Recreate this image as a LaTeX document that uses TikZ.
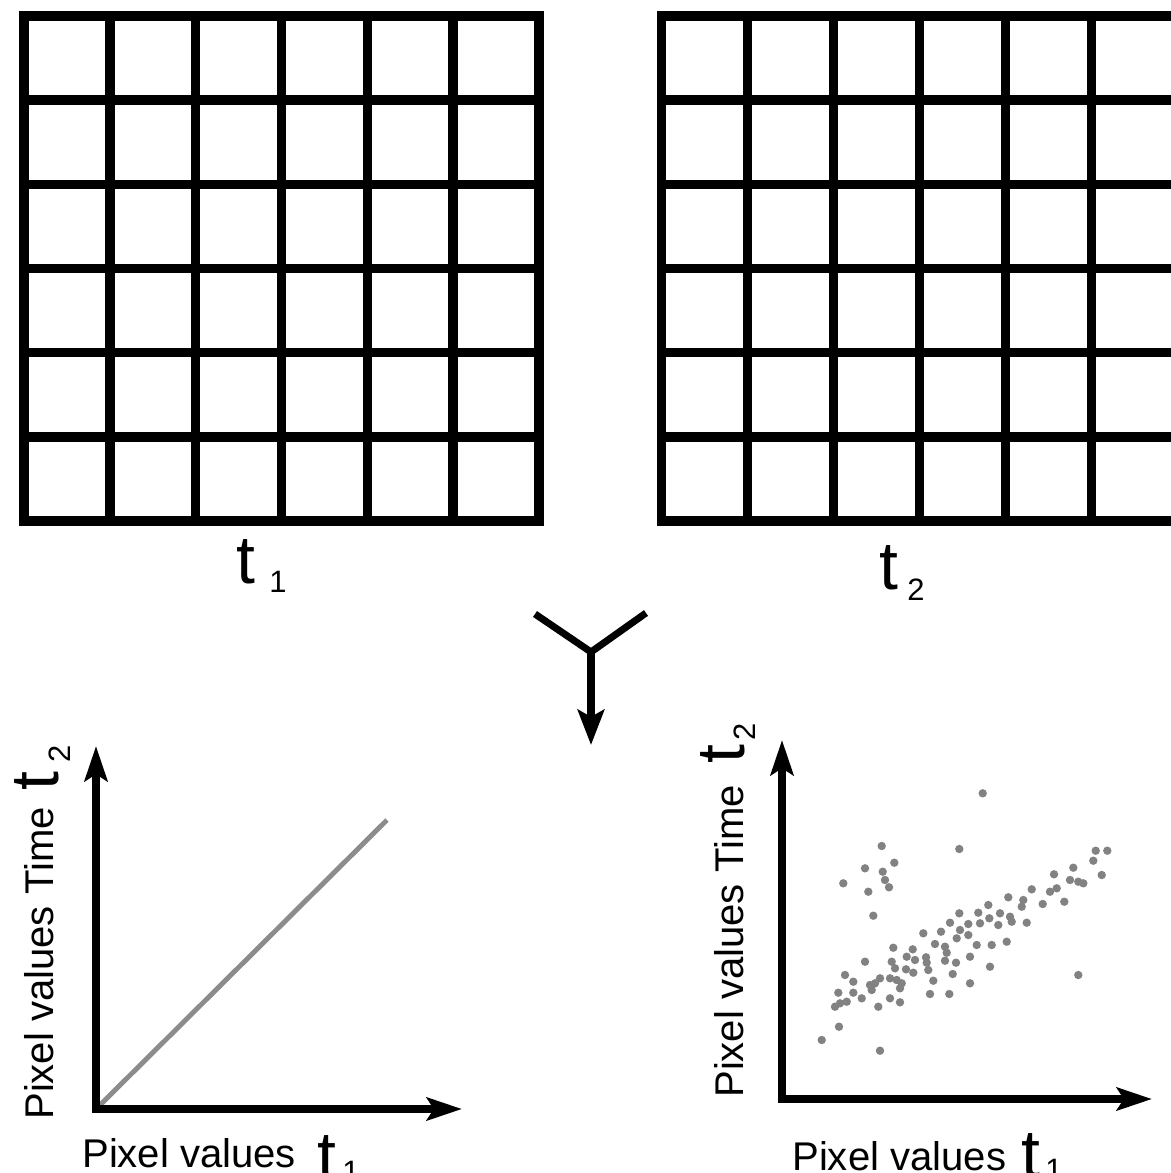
\documentclass[tikz,border=0pt]{standalone}
\usepackage{fontspec}
\setmainfont{Liberation Sans}
\usetikzlibrary{arrows.meta}
\definecolor{dotgray}{HTML}{828282}
\definecolor{linegray}{HTML}{8C8C8C}

\begin{document}
\begin{tikzpicture}[x=0.02cm,y=-0.02cm,line join=miter,
  gridline/.style={line width=5.4pt},
  axis/.style={line width=4.9pt,{Stealth[length=20pt,width=13pt,inset=4pt]}-{Stealth[length=20pt,width=13pt,inset=4pt]}},
  arm/.style={line width=4pt},
  lbl/.style={inner sep=0pt,anchor=base west,font=\fontsize{22.8}{27}\selectfont},
  bigt/.style={inner sep=0pt,anchor=base west,font=\fontsize{38.7}{44}\selectfont},
  subt/.style={inner sep=0pt,anchor=base west,font=\fontsize{17.6}{20}\selectfont},
  dot/.style={fill=dotgray}]
  \useasboundingbox (0,0) rectangle (1170,1173);
  % two image grids, 6 x 6 pixels each
  \draw[gridline] (24,16) rectangle (539,521);
  \foreach \i in {1,...,5} {
    \draw[gridline] (24+\i*85.83,16) -- (24+\i*85.83,521);
    \draw[gridline] (24,16+\i*84.17) -- (539,16+\i*84.17);
  }
  \draw[gridline] (1177,16) -- (661.5,16) -- (661.5,521) -- (1177,521);
  \foreach \i in {1,...,6} {
    \draw[gridline] (661.5+\i*86,16) -- (661.5+\i*86,521);
  }
  \foreach \i in {1,...,5} {
    \draw[gridline] (661.5,16+\i*84.17) -- (1177,16+\i*84.17);
  }
  \node[bigt] (tA) at (236,583) {t};
  \node[subt] (tAs) at (269,592) {1};
  \node[bigt] (tB) at (879,589) {t};
  \node[subt] (tBs) at (907,600) {2};
  % merge arrow
  \coordinate (yl) at (535,614);
  \coordinate (yr) at (646,613);
  \coordinate (yj) at (591,652);
  \coordinate (yt) at (591,745);
  \draw[arm] (yl) -- (yj) -- (yr);
  \draw[arm,-{Stealth[length=20pt,width=15pt,inset=4pt]}] (yj) -- (yt);
  % left plot: identical values
  \coordinate (oL) at (96,1109);
  \coordinate (yL) at (96,746);
  \coordinate (xL) at (462,1109);
  \draw[linegray,line width=2.8pt] (oL) -- (387,820);
  \draw[axis] (yL) -- (oL) -- (xL);
  \node[lbl,rotate=90] (yLab) at (53,1120) {Pixel values Time};
  \node[bigt,rotate=90] (yLt) at (58,791) {t};
  \node[subt,rotate=90] (yLs) at (70,763) {2};
  \node[lbl] (xLab) at (82,1167) {Pixel values};
  \node[bigt] (xLt) at (317,1179) {t};
  \node[subt] (xLs) at (342,1182) {1};
  % right plot: changed values
  \coordinate (oR) at (782,1099);
  \coordinate (yR) at (782,740);
  \coordinate (xR) at (1152,1099);
  \foreach \px/\py in {982.7/793.3,881.7/846,959.3/849,1095.7/850.7,1107.3/850.7,894.3/862.7,
    865/868.3,882.7/871.7,1093.3/860.7,1073.3/867.7,885/880,843.3/883.3,889/887.3,868.3/891.7,
    1054/874.3,1101.7/875,1070/880,1083.3/883.3,1078.3/881.7,1031.7/889.3,1050/891.7,
    1056.7/888.3,1008.3/897.3,1023.3/900,1021.7/906.7,1042.7/904,1064.3/901.7,988.3/905,
    873.3/915.7,959.3/913.3,978.3/912.7,1000/913.3,1010/916.7,989.3/918.3,950/922.7,
    968.3/924,980/923.3,998.3/925,1011.7/921.7,1026.7/922.7,923.3/933.3,941/931.7,960/930,
    968.3/935,956.7/938.3,893.3/947.7,912.7/949.3,935/944,945/946.7,976.7/945,991.7/945,
    1006.7/941.7,946.7/952.7,970/956.7,865/961.7,891.7/961.7,906.7/956.7,915/960,926/957.3,
    926.7/962.7,945/960.7,956/962.7,990/966.7,895/968.3,906/969.3,913.3/972.7,928.3/970,
    845/975,1078.3/975,952.7/974,880/978.3,890/978.3,896.7/980,901.7/983.3,933.3/980.7,
    853.3/981.7,870/985,875/983.3,970/983.3,900/988.3,871.7/990,853.3/992.7,838.3/992.7,
    861.7/998.3,930/994,949.3/994,890/998.3,900/1002.3,846.7/1001.7,835/1006.7,840/1003.3,
    878.3/1006.7,839/1026.7,821.7/1040,880/1050.7}
    \fill[dot] (\px,\py) circle (4.2);
  \draw[axis] (yR) -- (oR) -- (xR);
  \node[lbl,rotate=90] (yRab) at (743,1098) {Pixel values Time};
  \node[bigt,rotate=90] (yRt) at (744,764) {t};
  \node[subt,rotate=90] (yRs) at (755,741) {2};
  \node[lbl] (xRab) at (792,1170) {Pixel values};
  \node[bigt] (xRt) at (1021,1177) {t};
  \node[subt] (xRs) at (1045,1180) {1};
\end{tikzpicture}
\end{document}
